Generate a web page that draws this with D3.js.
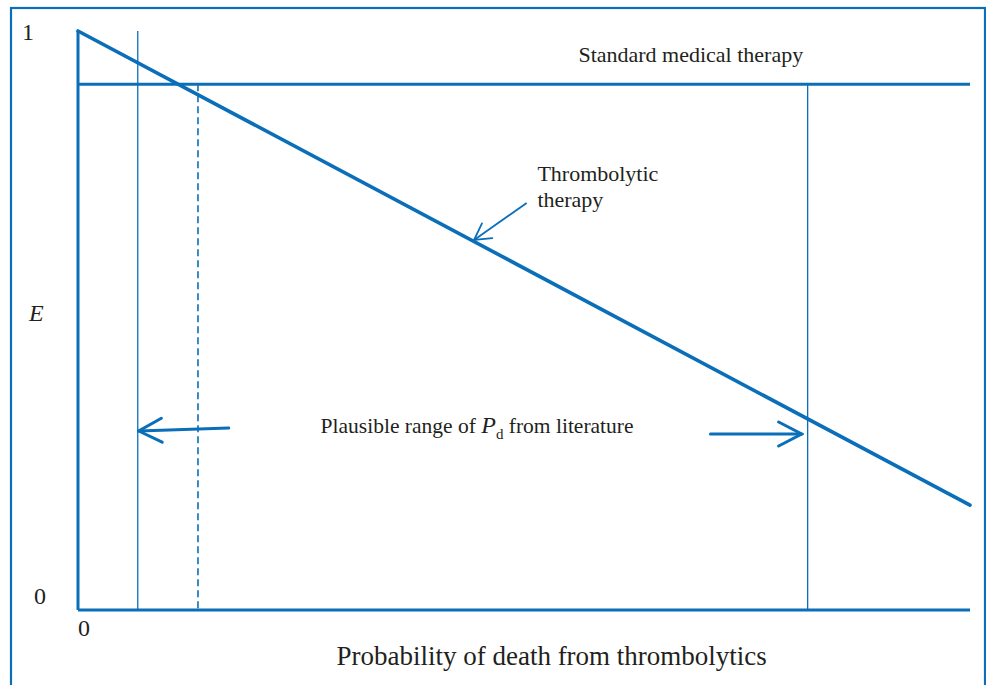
<!DOCTYPE html>
<meta charset="utf-8">
<script src="https://d3js.org/d3.v7.min.js"></script>
<style>
  body { margin: 0; background: #fff; }
  text { font-family: "Liberation Serif", "Times New Roman", serif; fill: #231f20; }
</style>
<div id="chart"></div>
<script>
    // values (x = probability of death, y = expected utility E)
    var xDomain = [0, 1],
        yDomain = [0, 1];
    var thrombolytic = [{ p: 0, e: 1 }, { p: 1, e: 0.181 }];
    var standard = [{ p: 0, e: 0.908 }, { p: 1, e: 0.908 }];
    var lowBound = 0.067,      // thin line on the left
        threshold = 0.1345,    // dashed line (where the two strategies cross)
        highBound = 0.818;     // thin line on the right
    var yTicks = [0, 1],
        xTicks = [0];

    var W = 986, H = 685;
    var margin = { top: 31, right: 16, bottom: 75, left: 78 },
        width = 970 - margin.left,
        height = 610 - margin.top;
    var blue = "#0a6fb8";

    var svgRoot = d3.select("#chart").append("svg")
        .attr("width", W).attr("height", H);

    var defs = svgRoot.append("defs");
    // big open head for the range arrows
    defs.append("marker")
        .attr("id", "head")
        .attr("viewBox", "0 0 32 30")
        .attr("refX", 30).attr("refY", 15)
        .attr("markerWidth", 32).attr("markerHeight", 30)
        .attr("markerUnits", "userSpaceOnUse")
        .attr("orient", "auto")
        .append("path")
        .attr("d", "M7,3 L30,15 L7,27")
        .attr("fill", "none").attr("stroke", blue)
        .attr("stroke-width", 3).attr("stroke-linecap", "round");
    // small head for the label pointer
    defs.append("marker")
        .attr("id", "headSmall")
        .attr("viewBox", "0 0 22 22")
        .attr("refX", 20).attr("refY", 11)
        .attr("markerWidth", 22).attr("markerHeight", 22)
        .attr("markerUnits", "userSpaceOnUse")
        .attr("orient", "auto")
        .append("path")
        .attr("d", "M4,2 L20,11 L4,20")
        .attr("fill", "none").attr("stroke", blue)
        .attr("stroke-width", 1.8).attr("stroke-linecap", "round");

    // outer frame
    svgRoot.append("rect")
        .attr("x", 11).attr("y", 8).attr("width", 974).attr("height", 700)
        .attr("fill", "none").attr("stroke", blue).attr("stroke-width", 2.2);

    var svg = svgRoot.append("g")
        .attr("transform", "translate(" + margin.left + "," + margin.top + ")");

    var x = d3.scaleLinear().domain(xDomain).range([0, width]);
    var y = d3.scaleLinear().domain(yDomain).range([height, 0]);

    // axes as plain lines
    svg.append("line")
        .attr("x1", x(0)).attr("x2", x(0)).attr("y1", y(1)).attr("y2", y(0))
        .attr("stroke", blue).attr("stroke-width", 3);
    svg.append("line")
        .attr("x1", x(0)).attr("x2", x(1)).attr("y1", y(0)).attr("y2", y(0))
        .attr("stroke", blue).attr("stroke-width", 3);

    svg.selectAll(".ytick").data(yTicks).enter().append("text")
        .attr("x", function (d) { return d == 1 ? -56 : -44; })
        .attr("y", function (d) { return d == 1 ? y(d) + 9 : y(d) - 6; })
        .attr("font-size", 24)
        .text(function (d) { return d; });
    svg.selectAll(".xtick").data(xTicks).enter().append("text")
        .attr("x", function (d) { return x(d); })
        .attr("y", height + 26)
        .attr("font-size", 24)
        .text(function (d) { return d; });

    svg.append("text")
        .attr("x", -49).attr("y", 290)
        .attr("font-size", 24).attr("font-style", "italic")
        .text("E");

    svg.append("text")
        .attr("x", x(0.531)).attr("y", height + 55)
        .attr("text-anchor", "middle").attr("font-size", 27)
        .text("Probability of death from thrombolytics");

    // vertical reference lines
    svg.append("line")
        .attr("x1", x(lowBound)).attr("x2", x(lowBound)).attr("y1", y(1)).attr("y2", y(0))
        .attr("stroke", blue).attr("stroke-width", 1.3);
    svg.append("line")
        .attr("x1", x(threshold)).attr("x2", x(threshold)).attr("y1", y(standard[0].e)).attr("y2", y(0))
        .attr("stroke", blue).attr("stroke-width", 1.6).attr("stroke-dasharray", "7,4");
    svg.append("line")
        .attr("x1", x(highBound)).attr("x2", x(highBound)).attr("y1", y(standard[0].e)).attr("y2", y(0))
        .attr("stroke", blue).attr("stroke-width", 1.3);

    var line = d3.line()
        .x(function (d) { return x(d.p); })
        .y(function (d) { return y(d.e); });

    svg.append("path").datum(standard)
        .attr("d", line).attr("fill", "none")
        .attr("stroke", blue).attr("stroke-width", 3);
    svg.append("path").datum(thrombolytic)
        .attr("d", line).attr("fill", "none")
        .attr("stroke", blue).attr("stroke-width", 3.6).attr("stroke-linecap", "round");

    // labels
    svg.append("text")
        .attr("x", x(0.687)).attr("y", 31)
        .attr("text-anchor", "middle").attr("font-size", 22)
        .text("Standard medical therapy");

    svg.append("text")
        .attr("x", x(0.515)).attr("y", 150)
        .attr("font-size", 22)
        .text("Thrombolytic");
    svg.append("text")
        .attr("x", x(0.515)).attr("y", 176)
        .attr("font-size", 22)
        .text("therapy");

    svg.append("line")
        .attr("x1", x(0.503)).attr("y1", 172)
        .attr("x2", x(0.444)).attr("y2", 209)
        .attr("stroke", blue).attr("stroke-width", 1.8)
        .attr("marker-end", "url(#headSmall)");

    var plaus = svg.append("text")
        .attr("x", x(0.272)).attr("y", 402)
        .attr("font-size", 21.5);
    plaus.append("tspan").text("Plausible range of ");
    plaus.append("tspan").attr("font-style", "italic").attr("font-size", 24).text("P");
    plaus.append("tspan").attr("font-size", 15).attr("dy", 6).text("d");
    plaus.append("tspan").attr("dy", -6).text(" from literature");

    // range arrows
    svg.append("line")
        .attr("x1", x(0.169)).attr("y1", 397)
        .attr("x2", x(lowBound) + 1).attr("y2", 400)
        .attr("stroke", blue).attr("stroke-width", 3).attr("stroke-linecap", "round")
        .attr("marker-end", "url(#head)");
    svg.append("line")
        .attr("x1", x(0.709)).attr("y1", 403)
        .attr("x2", x(highBound) - 6).attr("y2", 403)
        .attr("stroke", blue).attr("stroke-width", 3).attr("stroke-linecap", "round")
        .attr("marker-end", "url(#head)");
</script>
